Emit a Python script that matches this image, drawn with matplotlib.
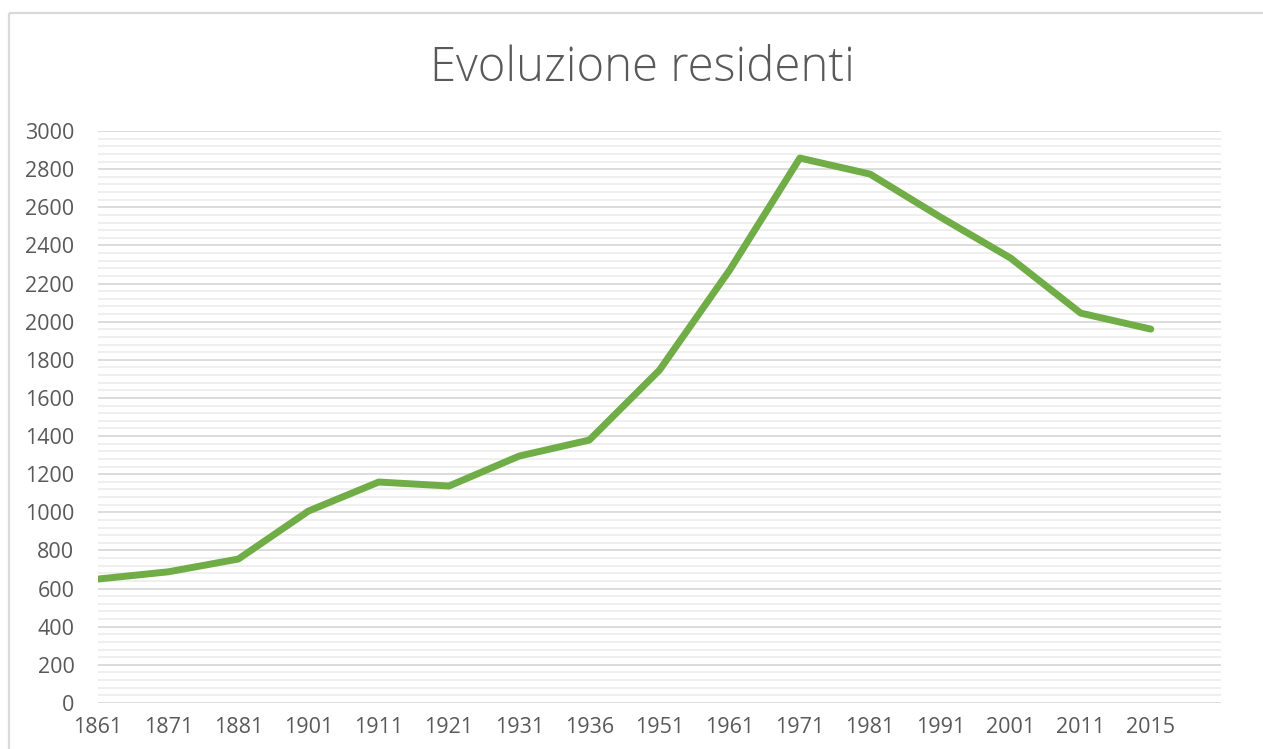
import matplotlib.pyplot as plt
from matplotlib.ticker import MultipleLocator
from matplotlib.lines import Line2D

# census years and residents
anni = ['1861', '1871', '1881', '1901', '1911', '1921', '1931', '1936',
        '1951', '1961', '1971', '1981', '1991', '2001', '2011', '2015']
residenti = [650, 688, 755, 1007, 1159, 1138, 1295, 1379,
             1746, 2271, 2858, 2774, 2549, 2334, 2045, 1961]

plt.rcParams['font.family'] = ['Open Sans', 'DejaVu Sans']
grigio = '#595959'

W, H = 1263, 749
fig = plt.figure(figsize=(W/100, H/100), dpi=100)
ax = fig.add_axes([98/W, 1 - 703/H, (1221 - 98)/W, (703 - 131)/H])

x = list(range(len(anni)))
ax.plot(x, residenti, color='#70AD47', lw=5, solid_capstyle='round',
        solid_joinstyle='round', zorder=3)

ax.set_xlim(0, len(anni))
ax.set_ylim(0, 3000)
ax.set_xticks(x)
ax.set_xticklabels(anni)
ax.yaxis.set_major_locator(MultipleLocator(200))
ax.yaxis.set_minor_locator(MultipleLocator(40))

ax.grid(which='major', axis='y', color='#d9d9d9', lw=1.3)
ax.grid(which='minor', axis='y', color='#eeeeee', lw=1.3)
ax.set_axisbelow(True)
for s in ax.spines.values():
    s.set_visible(False)
ax.tick_params(which='both', length=0, labelsize=15.5, labelcolor=grigio)
ax.tick_params(axis='y', pad=17)
ax.tick_params(axis='x', pad=10)

fig.text(0.5083, 1 - 69/H, 'Evoluzione residenti', ha='center', va='center',
         fontsize=34, color=grigio, fontweight='light')

# chart border (cropped at right and bottom)
fig.lines.append(Line2D([9/W, 9/W], [-0.05, 1 - 13/H], transform=fig.transFigure,
                        color='#d9d9d9', lw=1.6, solid_capstyle='butt'))
fig.lines.append(Line2D([9/W, 1.05], [1 - 13/H, 1 - 13/H], transform=fig.transFigure,
                        color='#d9d9d9', lw=1.6, solid_capstyle='butt'))

fig.savefig('out.png', dpi=100)
